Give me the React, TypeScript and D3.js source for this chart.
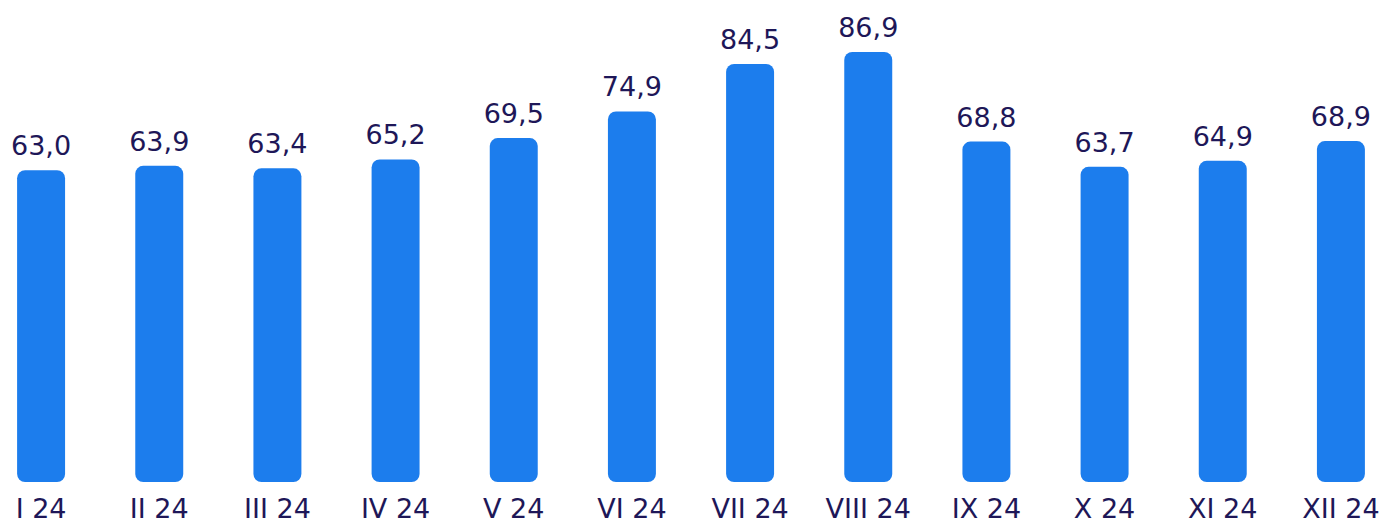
import { useEffect, useRef } from 'react'
import * as d3 from 'd3'

const months = ['I 24', 'II 24', 'III 24', 'IV 24', 'V 24', 'VI 24', 'VII 24', 'VIII 24', 'IX 24', 'X 24', 'XI 24', 'XII 24']
const values = [63.0, 63.9, 63.4, 65.2, 69.5, 74.9, 84.5, 86.9, 68.8, 63.7, 64.9, 68.9]

const W = 1387
const H = 521
const BAR_COLOR = '#1c7ded'
const TEXT_COLOR = '#1e1758'
const FONT = '"DejaVu Sans", sans-serif'

export default function App() {
    const svgRef = useRef<SVGSVGElement | null>(null)

    useEffect(() => {
        const svg = d3.select(svgRef.current)
        svg.selectAll('*').remove()

        const data = months.map((m, i) => ({ month: m, value: values[i] }))

        const x = d3.scaleBand<string>()
            .domain(months)
            .range([-18, 1400])
            .paddingInner(0.594)
            .paddingOuter(0.297)

        // baseline of bars at 482, tallest bar reaches 52
        const y = d3.scaleLinear()
            .domain([0, 86.9])
            .range([482, 52])

        svg.selectAll('.bar')
            .data(data)
            .enter()
            .append('rect')
            .attr('class', 'bar')
            .attr('x', (d: any) => x(d.month) as number)
            .attr('y', (d: any) => y(d.value))
            .attr('width', x.bandwidth())
            .attr('height', (d: any) => y(0) - y(d.value))
            .attr('rx', 8)
            .attr('fill', BAR_COLOR)

        // value labels, decimal comma
        svg.selectAll('.val')
            .data(data)
            .enter()
            .append('text')
            .attr('class', 'val')
            .attr('x', (d: any) => (x(d.month) as number) + x.bandwidth() / 2)
            .attr('y', (d: any) => y(d.value) - 15)
            .attr('text-anchor', 'middle')
            .attr('font-family', FONT)
            .attr('font-size', '27px')
            .attr('fill', TEXT_COLOR)
            .text((d: any) => d.value.toFixed(1).replace('.', ','))

        svg.selectAll('.cat')
            .data(data)
            .enter()
            .append('text')
            .attr('class', 'cat')
            .attr('x', (d: any) => (x(d.month) as number) + x.bandwidth() / 2)
            .attr('y', 518)
            .attr('text-anchor', 'middle')
            .attr('font-family', FONT)
            .attr('font-size', '27px')
            .attr('fill', TEXT_COLOR)
            .text((d: any) => d.month)
    }, [])

    return (
        <svg
            ref={svgRef}
            width={W}
            height={H}
            style={{ position: 'fixed', left: 0, top: 0, background: '#fff' }}
        ></svg>
    )
}
